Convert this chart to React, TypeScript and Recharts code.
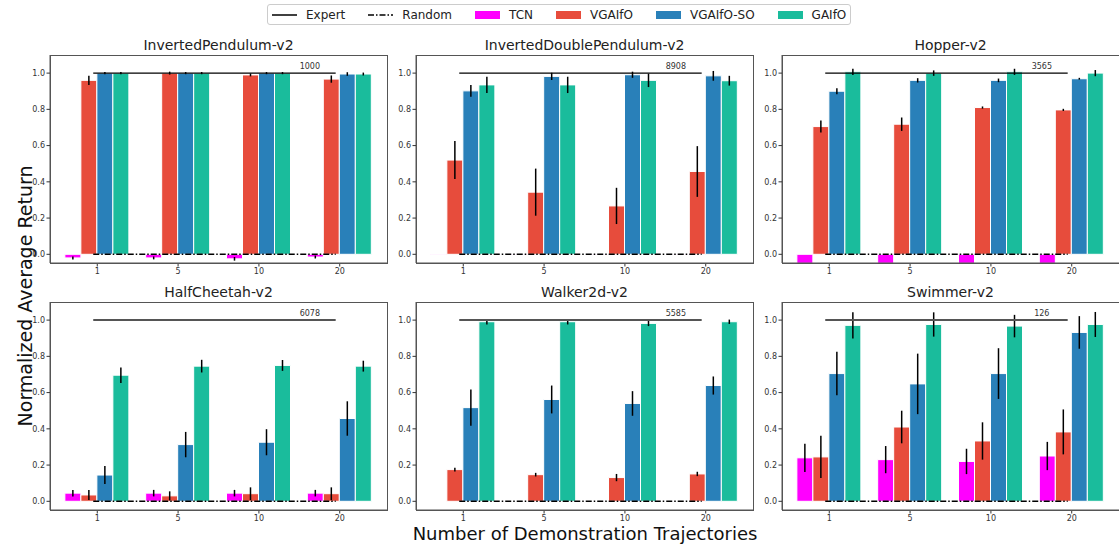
import React from 'react';
import {
  BarChart,
  Bar,
  XAxis,
  YAxis,
  ErrorBar,
  ReferenceLine,
  ReferenceDot,
} from 'recharts';

// number of demonstration trajectories (x categories)
const TRAJ = ['1', '5', '10', '20'];
const ENVS = [
  'InvertedPendulum-v2',
  'InvertedDoublePendulum-v2',
  'Hopper-v2',
  'HalfCheetah-v2',
  'Walker2d-v2',
  'Swimmer-v2',
];
const EXPERT = [1000, 8908, 3565, 6078, 5585, 126];

// normalized average return per env (rows) and trajectory count (cols)
const TCN = [
  [-0.02, -0.02, -0.025, -0.015],
  [-0.003, -0.003, -0.003, -0.003],
  [-0.05, -0.05, -0.05, -0.05],
  [0.045, 0.045, 0.045, 0.045],
  [0, 0, 0, 0],
  [0.24, 0.23, 0.22, 0.25],
];
const TCN_ERR = [
  [0.008, 0.008, 0.01, 0.008],
  [0, 0, 0, 0],
  [0, 0, 0, 0],
  [0.018, 0.018, 0.018, 0.018],
  [0, 0, 0, 0],
  [0.078, 0.075, 0.07, 0.078],
];
const VGAIFO = [
  [0.96, 1.0, 0.99, 0.967],
  [0.52, 0.343, 0.267, 0.457],
  [0.705, 0.718, 0.81, 0.797],
  [0.035, 0.03, 0.042, 0.042],
  [0.175, 0.147, 0.131, 0.151],
  [0.245, 0.41, 0.333, 0.383],
];
const VGAIFO_ERR = [
  [0.025, 0.008, 0.008, 0.02],
  [0.105, 0.13, 0.1, 0.14],
  [0.033, 0.037, 0.006, 0.006],
  [0.028, 0.025, 0.035, 0.035],
  [0.01, 0.01, 0.02, 0.012],
  [0.117, 0.09, 0.103, 0.124],
];
const VGAIFO_SO = [
  [1.0, 1.0, 1.0, 0.995],
  [0.902, 0.982, 0.991, 0.985],
  [0.9, 0.96, 0.96, 0.969],
  [0.145, 0.313, 0.326, 0.457],
  [0.517, 0.562, 0.54, 0.639],
  [0.705, 0.648, 0.705, 0.932],
];
const VGAIFO_SO_ERR = [
  [0.006, 0.006, 0.006, 0.01],
  [0.032, 0.02, 0.017, 0.027],
  [0.017, 0.012, 0.01, 0.005],
  [0.05, 0.07, 0.072, 0.095],
  [0.1, 0.077, 0.068, 0.05],
  [0.12, 0.167, 0.14, 0.09],
];
const GAIFO = [
  [1.0, 1.0, 1.0, 0.995],
  [0.935, 0.935, 0.96, 0.958],
  [1.007, 1.0, 1.007, 1.0],
  [0.696, 0.746, 0.75, 0.746],
  [0.991, 0.991, 0.982, 0.991],
  [0.971, 0.976, 0.967, 0.976],
];
const GAIFO_ERR = [
  [0.006, 0.006, 0.006, 0.008],
  [0.045, 0.045, 0.037, 0.027],
  [0.017, 0.015, 0.017, 0.017],
  [0.043, 0.035, 0.03, 0.03],
  [0.015, 0.015, 0.015, 0.012],
  [0.073, 0.067, 0.062, 0.069],
];

const Y_TICKS = [0, 0.2, 0.4, 0.6, 0.8, 1.0];

const COLORS = {
  tcn: '#ff00ff',
  vgaifo: '#e74c3c',
  so: '#2980b9',
  gaifo: '#1abc9c',
};

const FONT = '"DejaVu Sans", sans-serif';
const PLOT_W = 337;
const PLOT_H = 208;
const COL_X = [50, 416, 782];
const ROW_Y = [55, 302];
const YW = 32;
const MT = 1;
const MR = 2;
const XH = 22;
const YMIN = -0.048;
const YMAX = 1.1;
// axis margin beyond the outer half-bands, as a fraction of one band
const EDGE = 0.085;

const SERIES = [
  { key: 'tcn', mean: TCN, err: TCN_ERR, color: COLORS.tcn },
  { key: 'vgaifo', mean: VGAIFO, err: VGAIFO_ERR, color: COLORS.vgaifo },
  { key: 'so', mean: VGAIFO_SO, err: VGAIFO_SO_ERR, color: COLORS.so },
  { key: 'gaifo', mean: GAIFO, err: GAIFO_ERR, color: COLORS.gaifo },
];

const tickStyle = { fontSize: 8, fill: '#333', fontFamily: FONT };

const Panel: React.FC<{ idx: number }> = ({ idx }) => {
  const px = COL_X[idx % 3];
  const py = ROW_Y[Math.floor(idx / 3)];
  const bottomRow = idx >= 3;
  const data = TRAJ.map((n, i) => {
    const row: Record<string, string | number> = { n };
    for (const s of SERIES) {
      row[s.key] = s.mean[idx][i];
      row[s.key + 'Err'] = s.err[idx][i];
    }
    return row;
  });
  const band = PLOT_W / (TRAJ.length + 2 * EDGE);
  const pad = EDGE * band;
  const shift = 0.05 * band;
  const first = TRAJ[0];
  const last = TRAJ[TRAJ.length - 1];

  return (
    <>
      <div
        style={{
          position: 'absolute',
          left: px,
          top: py - 17,
          width: PLOT_W,
          textAlign: 'center',
          fontSize: 14,
          lineHeight: '14px',
          color: '#222',
          whiteSpace: 'nowrap',
        }}
      >
        {ENVS[idx]}
      </div>
      <div style={{ position: 'absolute', left: px - YW, top: py - MT }}>
        <BarChart
          width={YW + PLOT_W + MR}
          height={MT + PLOT_H + XH}
          data={data}
          margin={{ top: MT, right: MR, bottom: 0, left: 0 }}
          barGap={0}
          barSize={16}
        >
          <XAxis
            xAxisId="cat"
            dataKey="n"
            type="category"
            padding={{ left: pad, right: pad }}
            height={XH}
            tick={tickStyle}
            tickSize={3.5}
            tickMargin={2}
            axisLine={{ stroke: '#555' }}
            tickLine={{ stroke: '#333' }}
          />
          <YAxis
            type="number"
            domain={[YMIN, YMAX]}
            ticks={Y_TICKS}
            allowDataOverflow
            width={YW}
            tick={tickStyle}
            tickSize={3.5}
            tickMargin={1.5}
            tickFormatter={(v: number) => v.toFixed(1)}
            axisLine={{ stroke: '#555' }}
            tickLine={{ stroke: '#333' }}
          />
          {SERIES.map((s) => (
            <Bar
              key={s.key}
              xAxisId="cat"
              dataKey={s.key}
              fill={s.color}
              stroke="#ffffff"
              strokeWidth={1}
              isAnimationActive={false}
            >
              <ErrorBar
                dataKey={s.key + 'Err'}
                direction="y"
                width={0}
                stroke="#000"
                strokeWidth={1.5}
              />
            </Bar>
          ))}
          <ReferenceLine
            xAxisId="cat"
            segment={[
              { x: first, y: 0 },
              { x: last, y: 0 },
            ]}
            ifOverflow="visible"
            shape={(p: any) => (
              <line
                x1={p.x1 - shift}
                y1={p.y1}
                x2={p.x2 - shift}
                y2={p.y2}
                stroke="#000"
                strokeWidth={1.5}
                strokeDasharray="6 2 1.5 2"
              />
            )}
          />
          <ReferenceLine
            xAxisId="cat"
            segment={[
              { x: first, y: 1 },
              { x: last, y: 1 },
            ]}
            ifOverflow="visible"
            shape={(p: any) => (
              <line
                x1={p.x1 - shift}
                y1={p.y1}
                x2={p.x2 - shift}
                y2={p.y2}
                stroke={bottomRow ? '#555' : '#000'}
                strokeWidth={bottomRow ? 2 : 1.3}
              />
            )}
          />
          <ReferenceDot
            xAxisId="cat"
            x={last}
            y={1.037}
            r={0}
            ifOverflow="visible"
            shape={(p: any) => (
              <text
                x={p.cx - 0.37 * band}
                y={p.cy}
                textAnchor="middle"
                dominantBaseline="central"
                fontSize={8}
                fill="#333"
                fontFamily={FONT}
              >
                {EXPERT[idx]}
              </text>
            )}
          />
        </BarChart>
      </div>
      {/* axes frame */}
      <div
        style={{
          position: 'absolute',
          left: px - 0.5,
          top: py - 0.5,
          width: PLOT_W + 1,
          height: PLOT_H + 1,
          boxSizing: 'border-box',
          border: '1px solid #555',
          pointerEvents: 'none',
        }}
      />
    </>
  );
};

const LegendLine: React.FC<{ dash?: string }> = ({ dash }) => (
  <svg width={25} height={10} style={{ display: 'block' }}>
    <line x1={0} y1={5} x2={25} y2={5} stroke="#000" strokeWidth={1.5} strokeDasharray={dash} />
  </svg>
);

const LegendPatch: React.FC<{ color: string }> = ({ color }) => (
  <div style={{ width: 25, height: 8, background: color }} />
);

const LEGEND_ITEMS: { label: string; mark: React.ReactNode }[] = [
  { label: 'Expert', mark: <LegendLine /> },
  { label: 'Random', mark: <LegendLine dash="6 2 1.5 2" /> },
  { label: 'TCN', mark: <LegendPatch color={COLORS.tcn} /> },
  { label: 'VGAIfO', mark: <LegendPatch color={COLORS.vgaifo} /> },
  { label: 'VGAIfO-SO', mark: <LegendPatch color={COLORS.so} /> },
  { label: 'GAIfO', mark: <LegendPatch color={COLORS.gaifo} /> },
];

export default function App() {
  return (
    <div
      style={{
        position: 'absolute',
        left: 0,
        top: 0,
        width: 1119,
        height: 544,
        background: '#fff',
        fontFamily: FONT,
        overflow: 'hidden',
      }}
    >
      <div
        style={{
          position: 'absolute',
          left: 267,
          top: 4,
          height: 21,
          boxSizing: 'border-box',
          border: '1px solid #ccc',
          borderRadius: 3,
          display: 'flex',
          alignItems: 'center',
          paddingLeft: 4,
          paddingRight: 4,
          fontSize: 12,
          color: '#222',
        }}
      >
        {LEGEND_ITEMS.map((it, i) => (
          <div
            key={it.label}
            style={{ display: 'flex', alignItems: 'center', marginLeft: i === 0 ? 0 : 23 }}
          >
            {it.mark}
            <span style={{ marginLeft: 9, whiteSpace: 'nowrap' }}>{it.label}</span>
          </div>
        ))}
      </div>

      {ENVS.map((_, i) => (
        <Panel key={i} idx={i} />
      ))}

      <div
        style={{
          position: 'absolute',
          left: 25,
          top: 296,
          transform: 'translate(-50%, -50%) rotate(-90deg)',
          fontSize: 19,
          whiteSpace: 'nowrap',
          color: '#111',
        }}
      >
        Normalized Average Return
      </div>
      <div
        style={{
          position: 'absolute',
          left: 585,
          top: 525,
          transform: 'translateX(-50%)',
          fontSize: 18,
          lineHeight: '18px',
          whiteSpace: 'nowrap',
          color: '#111',
        }}
      >
        Number of Demonstration Trajectories
      </div>
    </div>
  );
}
